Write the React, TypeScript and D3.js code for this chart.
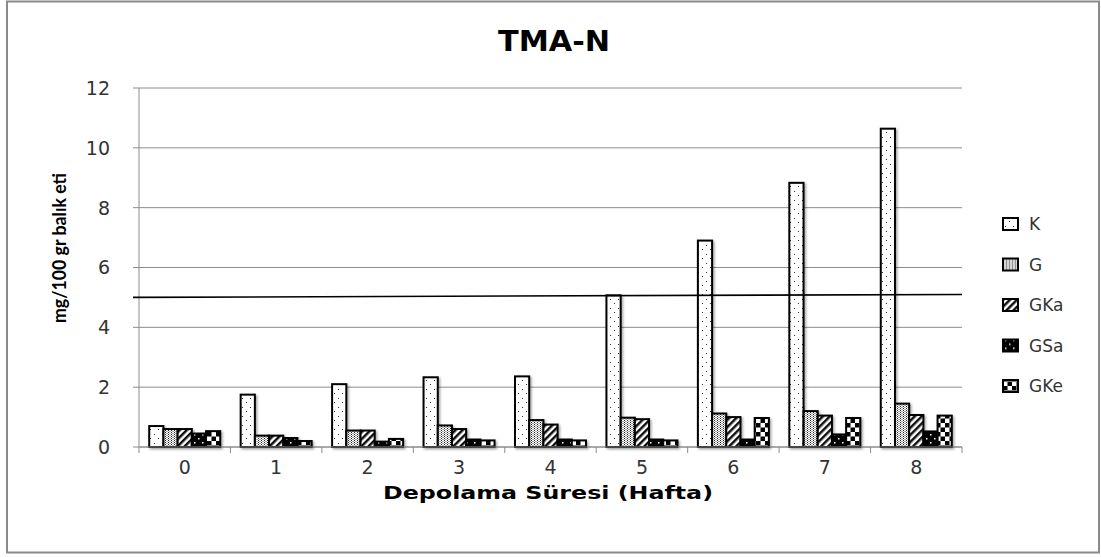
import React from "react";
import * as d3 from "d3";

const categories = ["0", "1", "2", "3", "4", "5", "6", "7", "8"];
const seriesNames = ["K", "G", "GKa", "GSa", "GKe"];
const valuesK = [0.7, 1.75, 2.1, 2.33, 2.36, 5.07, 6.9, 8.83, 10.64];
const valuesG = [0.6, 0.38, 0.55, 0.72, 0.9, 0.98, 1.12, 1.2, 1.45];
const valuesGKa = [0.6, 0.38, 0.55, 0.6, 0.75, 0.93, 1.0, 1.05, 1.07];
const valuesGSa = [0.45, 0.3, 0.18, 0.25, 0.25, 0.25, 0.25, 0.42, 0.52];
const valuesGKe = [0.53, 0.2, 0.27, 0.22, 0.22, 0.22, 0.97, 0.97, 1.05];
const yTicks = [0, 2, 4, 6, 8, 10, 12];
const limitLine = [5.0, 5.1];
const title = "TMA-N";
const xTitle = "Depolama Süresi (Hafta)";
const yTitle = "mg/100 gr balık eti";

const seriesValues = [valuesK, valuesG, valuesGKa, valuesGSa, valuesGKe];
const patternIds = ["pK", "pG", "pGKa", "pGSa", "pGKe"];

export default function App() {
  const W = 1101, H = 557;
  const plot = { left: 139, right: 962, top: 88, bottom: 447 };
  const x = d3.scaleBand<string>().domain(categories).range([plot.left, plot.right]).padding(0);
  const xs = d3.scaleBand<string>().domain(seriesNames).range([0, x.bandwidth()]).paddingInner(0).paddingOuter(0.72);
  const y = d3.scaleLinear().domain([0, 12]).range([plot.bottom, plot.top]);
  const font = "'DejaVu Sans', sans-serif";
  const line = d3.line<[number, number]>().x(d => d[0]).y(d => d[1]);
  const limitPts: [number, number][] = [
    [plot.left - 6, y(limitLine[0])],
    [plot.right, y(limitLine[1])],
  ];
  const boundaries = categories.map((_, i) => plot.left + i * x.step()).concat([plot.right]);
  const legendX = 1003;
  const legendY0 = 224;
  const legendStep = 40.5;

  return (
    <svg width={W} height={H} style={{ position: "absolute", left: 0, top: 0, background: "#fff" }}>
      <defs>
        <pattern id="pK" width="8" height="9" patternUnits="userSpaceOnUse">
          <rect width="8" height="9" fill="#fff" />
          <rect x="2" y="2" width="1" height="1" fill="#333" />
          <rect x="6" y="6" width="1" height="1" fill="#333" />
        </pattern>
        <pattern id="pG" width="3" height="2" patternUnits="userSpaceOnUse">
          <rect width="3" height="2" fill="#fff" />
          <rect x="0" y="0" width="1" height="1" fill="#222" />
          <rect x="1.5" y="1" width="1" height="1" fill="#555" />
        </pattern>
        <pattern id="pGKa" width="5" height="5" patternUnits="userSpaceOnUse" patternTransform="rotate(45)">
          <rect width="5" height="5" fill="#fff" />
          <rect width="2.5" height="5" fill="#111" />
        </pattern>
        <pattern id="pGSa" width="8" height="8" patternUnits="userSpaceOnUse">
          <rect width="8" height="8" fill="#000" />
          <rect x="2" y="2" width="1.5" height="1.5" fill="#fff" />
          <rect x="6" y="6" width="1.5" height="1.5" fill="#fff" />
        </pattern>
        <pattern id="pGKe" width="9" height="9" patternUnits="userSpaceOnUse">
          <rect width="9" height="9" fill="#fff" />
          <rect x="0" y="0" width="4.5" height="4.5" fill="#000" />
          <rect x="4.5" y="4.5" width="4.5" height="4.5" fill="#000" />
        </pattern>
        <filter id="shadow" x="-20%" y="-20%" width="160%" height="140%">
          <feDropShadow dx="1.5" dy="1.5" stdDeviation="1" floodColor="#000" floodOpacity="0.35" />
        </filter>
      </defs>
      {/* outer border */}
      <rect x={7} y={1.5} width={1092} height={551} fill="none" stroke="#8a8a8a" strokeWidth={2} />

      {/* gridlines */}
      {yTicks.map(t => (
        <line key={"g" + t} x1={plot.left} x2={plot.right} y1={y(t)} y2={y(t)} stroke="#8c8c8c" strokeWidth={1} />
      ))}
      {/* y axis */}
      <line x1={plot.left} x2={plot.left} y1={plot.top} y2={plot.bottom} stroke="#8c8c8c" strokeWidth={1} />
      {yTicks.map(t => (
        <g key={"yt" + t}>
          <line x1={plot.left - 6} x2={plot.left} y1={y(t)} y2={y(t)} stroke="#8c8c8c" />
          <text x={110} y={y(t)} dy="0.36em" textAnchor="end" fontFamily={font} fontSize={19} fill="#333">{t}</text>
        </g>
      ))}
      {/* x axis ticks */}
      {boundaries.map((b, i) => (
        <line key={"xt" + i} x1={b} x2={b} y1={plot.bottom} y2={plot.bottom + 6} stroke="#8c8c8c" />
      ))}
      {categories.map(c => (
        <text key={"xl" + c} x={(x(c) as number) + x.bandwidth() / 2} y={474} textAnchor="middle" fontFamily={font} fontSize={19} fill="#333">{c}</text>
      ))}

      {/* bars */}
      <g filter="url(#shadow)">
        {categories.map((c, ci) =>
          seriesNames.map((s, si) => {
            const v = seriesValues[si][ci];
            const bx = (x(c) as number) + (xs(s) as number);
            return (
              <rect key={c + s} x={bx} y={y(v)} width={xs.bandwidth()} height={plot.bottom - y(v)}
                fill={`url(#${patternIds[si]})`} stroke="#000" strokeWidth={2} />
            );
          })
        )}
      </g>
      {/* x axis line on top */}
      <line x1={plot.left} x2={plot.right} y1={plot.bottom} y2={plot.bottom} stroke="#8c8c8c" strokeWidth={1} />

      {/* limit line */}
      <path d={line(limitPts) || ""} stroke="#000" strokeWidth={1.6} fill="none" />

      {/* titles */}
      <text x={554} y={51} textAnchor="middle" fontFamily={font} fontWeight="bold" fontSize={28} fill="#000"
        textLength={112} lengthAdjust="spacingAndGlyphs">{title}</text>
      <text x={548} y={499} textAnchor="middle" fontFamily={font} fontWeight="bold" fontSize={18} fill="#000"
        textLength={330} lengthAdjust="spacingAndGlyphs">{xTitle}</text>
      <text transform={`translate(66,248) rotate(-90)`} textAnchor="middle" fontFamily="Lato, sans-serif" fontWeight="bold" fontSize={19} fill="#000"
        textLength={150} lengthAdjust="spacingAndGlyphs">{yTitle}</text>

      {/* legend */}
      {seriesNames.map((s, i) => (
        <g key={"lg" + s} transform={`translate(${legendX},${legendY0 + i * legendStep})`}>
          <rect x={0} y={-6} width={15} height={12} fill={`url(#${patternIds[i]})`} stroke="#000" strokeWidth={2} />
          <text x={26} y={0} dy="0.36em" fontFamily={font} fontSize={17} fill="#333">{s}</text>
        </g>
      ))}
    </svg>
  );
}
